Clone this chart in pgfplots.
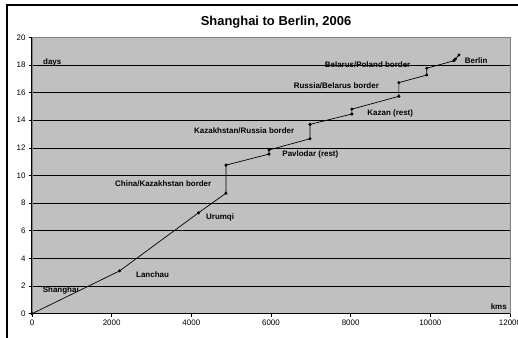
\documentclass[border=0pt]{standalone}
\usepackage{pgfplots}
\pgfplotsset{compat=1.18}
\usepackage{fontspec}
\setmainfont{Liberation Sans}
\definecolor{plotbg}{RGB}{192,192,192}
\definecolor{plotborder}{RGB}{128,128,128}
\pgfplotstableread{
x y
0 0
2200 3.1
4180 7.3
4870 8.72
4870 10.75
5950 11.55
5950 11.85
6980 12.66
6980 13.7
8030 14.45
8030 14.8
9210 15.73
9210 16.72
9910 17.27
9910 17.76
10590 18.3
10625 18.42
10720 18.72
}\route
\begin{document}
\begin{tikzpicture}
\useasboundingbox (0bp,0bp) rectangle (518bp,338bp);
\draw[line width=1.3bp, black] (7bp,-5bp) -- (7bp,333bp) -- (530bp,333bp);
\begin{axis}[
  at={(32bp,24.3bp)}, anchor=south west,
  width=478bp, height=276.4bp, scale only axis,
  xmin=0, xmax=12000, ymin=0, ymax=20,
  xtick={0,2000,...,12000}, ytick={0,2,...,20},
  axis background/.style={fill=plotbg},
  axis line style={plotborder, line width=0.8bp},
  ymajorgrids, major grid style={black, line width=0.6bp},
  xtick pos=bottom, ytick pos=left, tick align=outside,
  major tick length=3bp, tick style={black, line width=0.6bp},
  scaled ticks=false,
  /pgf/number format/1000 sep={},
  /pgf/number format/assume math mode=true,
  tick label style={font=\fontsize{8}{9.5}\selectfont},
  clip=false,
]
\addplot[black, line width=0.7bp, mark=*, mark size=1.2pt] table[x=x,y=y] {\route};
\draw[black, line width=1bp] (rel axis cs:0,1) -- (rel axis cs:0,0) -- (rel axis cs:1,0);
\begin{scope}[every node/.style={font=\bfseries\fontsize{8}{9}\selectfont, inner sep=0pt}]
\node[anchor=west] at (axis cs:276,18.2) {days};
\node[anchor=east] at (axis cs:11923,0.48) {kms};
\node[anchor=west] at (axis cs:268,1.66) {Shanghai};
\node[anchor=west] at (axis cs:2610,2.85) {Lanchau};
\node[anchor=west] at (axis cs:4367,6.95) {Urumqi};
\node[anchor=west] at (axis cs:2083,9.41) {China/Kazakhstan border};
\node[anchor=west] at (axis cs:4066,13.27) {Kazakhstan/Russia border};
\node[anchor=west] at (axis cs:6283,11.56) {Pavlodar (rest)};
\node[anchor=west] at (axis cs:8416,14.5) {Kazan (rest)};
\node[anchor=west] at (axis cs:6568,16.5) {Russia/Belarus border};
\node[anchor=west] at (axis cs:7347,18.0) {Belarus/Poland border};
\node[anchor=west] at (axis cs:10861,18.3) {Berlin};
\end{scope}
\end{axis}
\node[font=\bfseries\fontsize{13}{15}\selectfont] at (276bp,316bp) {Shanghai to Berlin, 2006};
\end{tikzpicture}
\end{document}
